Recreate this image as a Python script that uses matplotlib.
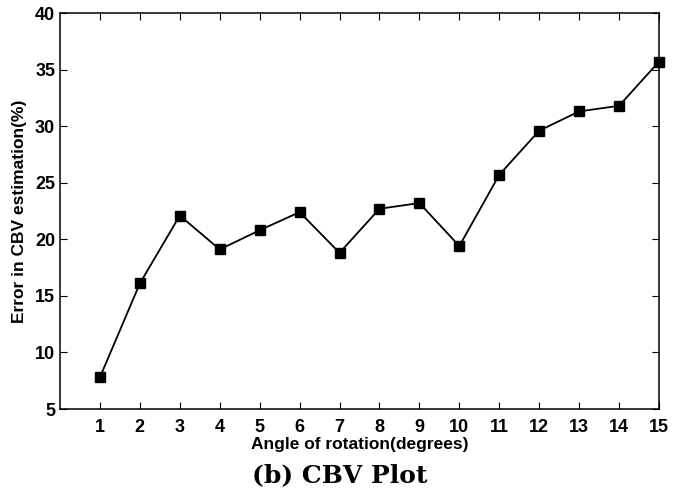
""" plot.py

    CBV error vs. rotation angle (subfigure b)."""

import matplotlib
matplotlib.use("Agg")
from matplotlib import pyplot as plt

# Data
# ----
angles: list[int] = [1, 2, 3, 4, 5, 6, 7, 8, 9, 10, 11, 12, 13, 14, 15]
cbv_error: list[float] = [7.8, 16.1, 22.1, 19.1, 20.8, 22.4, 18.8, 22.7,
                          23.2, 19.4, 25.7, 29.6, 31.3, 31.8, 35.7]
y_ticks: list[int] = [5, 10, 15, 20, 25, 30, 35, 40]

W, H = 691, 491

fig = plt.figure(figsize=(W / 100, H / 100), dpi=100)
ax = fig.add_axes([60 / W, 1 - 409 / H, (659 - 60) / W, (409 - 13) / H])

ax.plot(angles, cbv_error, color="black", linewidth=1.3,
        marker="s", markersize=7.5, markerfacecolor="black", markeredgecolor="black",
        clip_on=False, zorder=3)

# Stylizing
# ---------
ax.set_xlim(0, 15)
ax.set_ylim(5, 40)
ax.set_xticks(angles)
ax.set_yticks(y_ticks)

sans = ["Liberation Sans", "DejaVu Sans"]
ax.tick_params(direction="in", top=True, right=True, length=5, width=0.8,
               labelsize=13)
ax.tick_params(axis="x", pad=7)
ax.tick_params(axis="y", pad=3.5)
for lbl in ax.get_xticklabels() + ax.get_yticklabels():
    lbl.set_fontfamily(sans)
    lbl.set_fontweight("bold")

for spine in ax.spines.values():
    spine.set_linewidth(1.1)

ax.set_xlabel("Angle of rotation(degrees)", fontfamily=sans, fontweight="bold",
              fontsize=12.5, labelpad=1)
ax.set_ylabel("Error in CBV estimation(%)", fontfamily=sans, fontweight="bold",
              fontsize=12.5, labelpad=6)

# caption under the plot
fig.text(340 / W, 1 - 475 / H, "(b) CBV Plot", fontfamily="DejaVu Serif",
         fontweight="bold", fontsize=18, ha="center", va="center")

fig.savefig("out.png", dpi=100)
